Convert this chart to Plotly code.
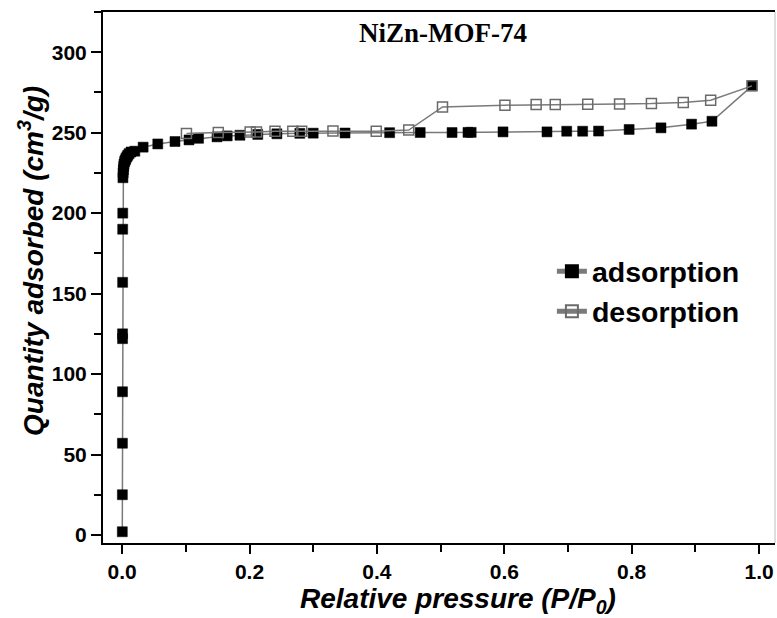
import plotly.graph_objects as go

# Adsorption branch (relative pressure, quantity adsorbed)
p_ads = [0.0003, 0.0004, 0.0005, 0.0006, 0.0007, 0.0007, 0.0008, 0.0009, 0.0010,
         0.0013, 0.0016, 0.0020, 0.0025, 0.0030, 0.0040, 0.0050, 0.0060, 0.0075,
         0.0090, 0.011, 0.014, 0.020, 0.033, 0.056, 0.083, 0.105, 0.120, 0.149,
         0.165, 0.185, 0.213, 0.243, 0.279, 0.300, 0.350, 0.420, 0.468, 0.518,
         0.543, 0.548, 0.598, 0.667, 0.698, 0.723, 0.748, 0.796, 0.846, 0.894,
         0.926, 0.989]
q_ads = [2, 25, 57, 89, 122, 125, 157, 190, 200,
         222, 225, 227, 229, 230.5, 232, 233, 234, 235,
         236, 237, 238, 238.5, 241, 243, 244.5, 245.5, 246.5, 247.4,
         248, 248.4, 248.9, 249.3, 249.6, 249.7, 249.8, 250, 250.1, 250.1,
         250.2, 250.2, 250.5, 250.5, 250.9, 250.9, 251, 252, 253, 255.3,
         257.1, 279.1]

# Desorption branch
p_des = [0.989, 0.924, 0.881, 0.831, 0.781, 0.731, 0.680, 0.650, 0.601, 0.503,
         0.450, 0.399, 0.331, 0.282, 0.268, 0.240, 0.211, 0.201, 0.151, 0.101]
q_des = [279.1, 270.2, 268.8, 268.1, 267.9, 267.7, 267.5, 267.5, 267.1, 266.0,
         251.6, 250.9, 251.1, 250.9, 250.9, 250.9, 250.5, 250.5, 250.1, 249.5]

x_ticks = [0.0, 0.2, 0.4, 0.6, 0.8, 1.0]
x_tick_labels = ["0.0", "0.2", "0.4", "0.6", "0.8", "1.0"]
y_ticks = [0, 50, 100, 150, 200, 250, 300]
y_tick_labels = ["0", "50", "100", "150", "200", "250", "300"]

LINE = "#7a7a7a"
SANS = "Liberation Sans, Arial, sans-serif"

fig = go.Figure()
fig.add_trace(go.Scatter(
    x=p_ads, y=q_ads, mode="lines+markers", name="<b>adsorption</b>",
    line=dict(color=LINE, width=1.5),
    marker=dict(symbol="square", size=10, color="black",
                line=dict(color="black", width=0.5)),
))
fig.add_trace(go.Scatter(
    x=p_des, y=q_des, mode="lines+markers", name="<b>desorption</b>",
    line=dict(color=LINE, width=1.5),
    marker=dict(symbol="square-open", size=10, color="#6a6a6a",
                line=dict(color="#6a6a6a", width=1.5)),
))

fig.update_layout(
    width=777, height=618,
    margin=dict(l=103, r=2, t=12, b=75),
    paper_bgcolor="white", plot_bgcolor="white",
    showlegend=True,
    legend=dict(x=0.668, y=0.559, xanchor="left", yanchor="top",
                bgcolor="rgba(0,0,0,0)", borderwidth=0,
                font=dict(family=SANS, size=28.5, color="black"),
                tracegroupgap=0, itemsizing="constant"),
    font=dict(family=SANS, color="black"),
)

fig.update_xaxes(
    range=[-0.03, 1.025],
    tickvals=x_ticks, ticktext=[f"<b>{t}</b>" for t in x_tick_labels],
    tickfont=dict(family=SANS, size=21, color="black"),
    ticks="outside", ticklen=9, tickwidth=1.5, tickcolor="black",
    minor=dict(dtick=0.1, tick0=0, ticks="outside", ticklen=7, tickwidth=1.5, tickcolor="black"),
    showline=True, linecolor="black", linewidth=2, mirror=True,
    showgrid=False, zeroline=False,
)
fig.update_yaxes(
    range=[-5, 325],
    tickvals=y_ticks, ticktext=[f"<b>{t}</b>" for t in y_tick_labels],
    tickfont=dict(family=SANS, size=21, color="black"),
    ticks="outside", ticklen=10, tickwidth=1.5, tickcolor="black",
    minor=dict(dtick=25, tick0=0, ticks="outside", ticklen=7, tickwidth=1.5, tickcolor="black"),
    showline=True, linecolor="black", linewidth=2, mirror=False,
    showgrid=False, zeroline=False,
)

# light right border of the frame
fig.add_shape(type="line", xref="paper", yref="paper", x0=1, x1=1, y0=0, y1=1,
              line=dict(color="#bdbdbd", width=1))

# axis titles
fig.add_annotation(
    text="<b><i>Relative pressure (P/P<sub>0</sub>)</i></b>", xref="paper", yref="paper",
    x=0.528, y=-0.108, xanchor="center", yanchor="middle", showarrow=False,
    font=dict(family=SANS, size=28, color="black"),
)
fig.add_annotation(
    text="<b><i>Quantity adsorbed (cm<sup>3</sup>/g)</i></b>", xref="paper", yref="paper",
    x=-0.108, y=0.532, xanchor="center", yanchor="middle", textangle=-90, showarrow=False,
    font=dict(family=SANS, size=28, color="black"),
)

fig.add_annotation(
    text="<b>NiZn-MOF-74</b>", xref="paper", yref="paper",
    x=0.506, y=0.96, xanchor="center", yanchor="middle", showarrow=False,
    font=dict(family="Liberation Serif, Times New Roman, serif", size=27, color="black"),
)

fig.write_html(
    "out.html",
    config={"displayModeBar": False},
    post_script="document.body.style.margin='0';document.body.style.overflow='hidden';",
)
